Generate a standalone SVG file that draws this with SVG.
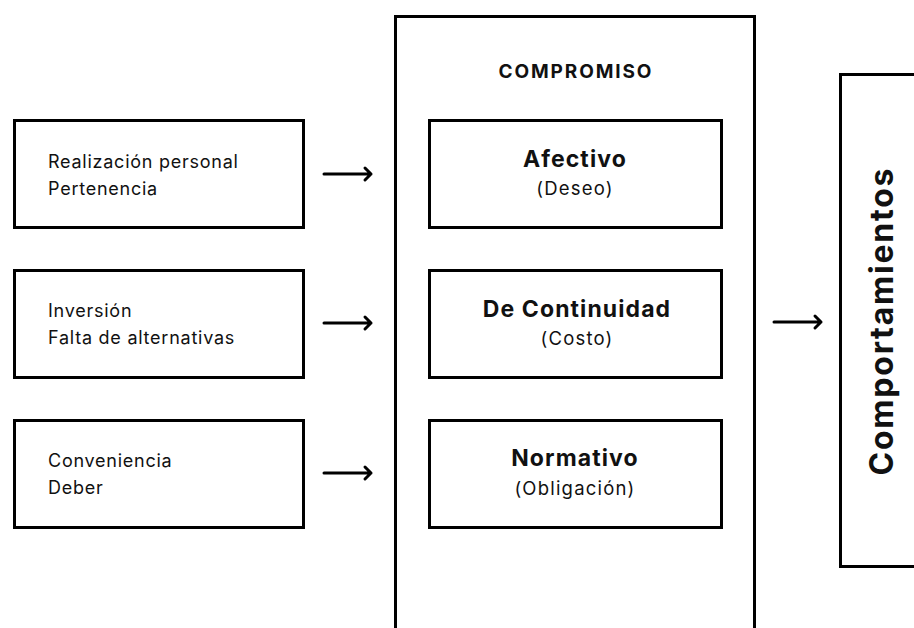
<svg xmlns="http://www.w3.org/2000/svg" width="914" height="628" viewBox="0 0 914 628">
<style>
.box{fill:#fff;stroke:#000;stroke-width:3}
.t{font-family:Inter,"Open Sans",sans-serif;fill:#111}
.l{font-size:18px;font-weight:400;letter-spacing:0.75px}
.h{font-size:23px;font-weight:700;text-anchor:middle;letter-spacing:1.1px}
.s{font-size:18.5px;font-weight:400;text-anchor:middle;letter-spacing:1.2px}
.arr{fill:none;stroke:#000;stroke-width:3;stroke-linecap:round;stroke-linejoin:round}
</style>
<rect width="914" height="628" fill="#fff"/>
<g id="compromiso">
<rect class="box" x="395.5" y="16.5" width="359" height="700"/>
<text class="t" x="575" y="78" font-size="19" font-weight="700" text-anchor="middle" textLength="153">COMPROMISO</text>
</g>
<g id="comportamientos">
<rect class="box" x="840.5" y="74.5" width="200" height="492"/>
<text class="t" transform="translate(893,322) rotate(-90)" font-size="32" font-weight="700" text-anchor="middle" textLength="307">Comportamientos</text>
</g>
<g id="src1">
<rect class="box" x="14.5" y="120.5" width="289" height="107"/>
<text class="t l" x="48" y="168">Realización personal</text>
<text class="t l" x="48" y="195">Pertenencia</text>
</g>
<g id="src2">
<rect class="box" x="14.5" y="270.5" width="289" height="107"/>
<text class="t l" x="48" y="317">Inversión</text>
<text class="t l" x="48" y="344">Falta de alternativas</text>
</g>
<g id="src3">
<rect class="box" x="14.5" y="420.5" width="289" height="107"/>
<text class="t l" x="48" y="467">Conveniencia</text>
<text class="t l" x="48" y="494">Deber</text>
</g>
<g id="afectivo">
<rect class="box" x="429.5" y="120.5" width="292" height="107"/>
<text class="t h" x="575" y="167">Afectivo</text>
<text class="t s" x="575" y="195">(Deseo)</text>
</g>
<g id="continuidad">
<rect class="box" x="429.5" y="270.5" width="292" height="107"/>
<text class="t h" x="577" y="317">De Continuidad</text>
<text class="t s" x="577" y="345">(Costo)</text>
</g>
<g id="normativo">
<rect class="box" x="429.5" y="420.5" width="292" height="107"/>
<text class="t h" x="575" y="466">Normativo</text>
<text class="t s" x="575" y="495">(Obligación)</text>
</g>
<g id="connectors">
<path class="arr" d="M324 174H371M365 168L371 174L365 180"/>
<path class="arr" d="M324 323H371M365 317L371 323L365 329"/>
<path class="arr" d="M324 473H371M365 467L371 473L365 479"/>
<path class="arr" d="M774 322H821M815 316L821 322L815 328"/>
</g>
</svg>
